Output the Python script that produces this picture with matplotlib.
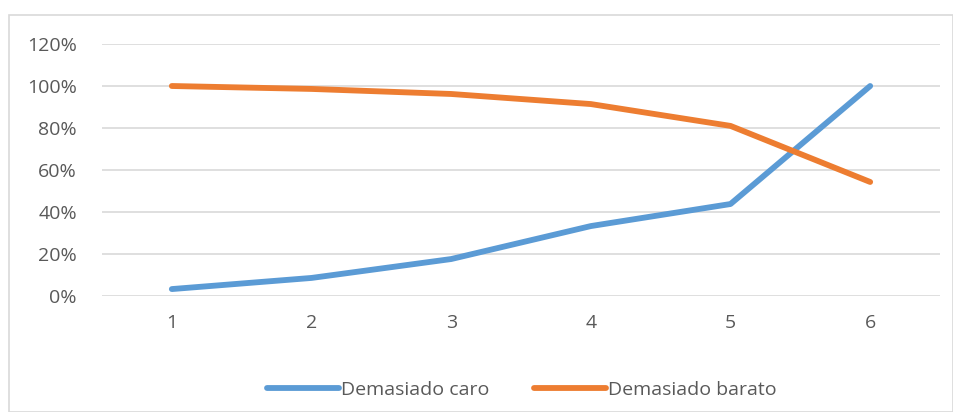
import matplotlib.pyplot as plt
from matplotlib.patches import Rectangle
from matplotlib.ticker import PercentFormatter

# Price sensitivity curves
puntos = [1, 2, 3, 4, 5, 6]
caro = [3.3, 8.6, 17.6, 33.3, 43.8, 100.0]
barato = [100.0, 98.6, 96.2, 91.4, 81.0, 54.3]

plt.rcParams['font.family'] = ['Open Sans', 'DejaVu Sans']
gris = '#595959'

fig = plt.figure(figsize=(9.54, 4.12), dpi=100)
ax = fig.add_axes([102 / 954, 1 - 296 / 412, 838 / 954, 252 / 412])

ax.plot(puntos, caro, color='#5B9BD5', lw=4.2, solid_capstyle='round',
        label='Demasiado caro')
ax.plot(puntos, barato, color='#ED7D31', lw=4.2, solid_capstyle='round',
        label='Demasiado barato')

ax.set_xlim(0.5, 6.5)
ax.set_ylim(0, 120)
ax.set_yticks(range(0, 121, 20))
ax.yaxis.set_major_formatter(PercentFormatter(decimals=0))
ax.set_xticks(puntos)
ax.grid(axis='y', color='#D9D9D9', lw=1.2)
ax.set_axisbelow(True)
for s in ax.spines.values():
    s.set_visible(False)
ax.tick_params(length=0, labelsize=14, colors=gris)
ax.tick_params(axis='x', pad=13)
ax.tick_params(axis='y', pad=18)

leg = fig.legend(loc='center', bbox_to_anchor=(0.547, 1 - 390 / 412), ncol=2,
                 frameon=False, fontsize=14, handlelength=3.7,
                 handletextpad=0.1, columnspacing=2.3)
for t in leg.get_texts():
    t.set_color(gris)

# outer chart border
fig.patches.append(Rectangle((9 / 954, 0), 944 / 954, 1 - 15 / 412,
                             transform=fig.transFigure, fill=False,
                             ec='#D9D9D9', lw=1.2))

fig.savefig('out.png', dpi=100)
